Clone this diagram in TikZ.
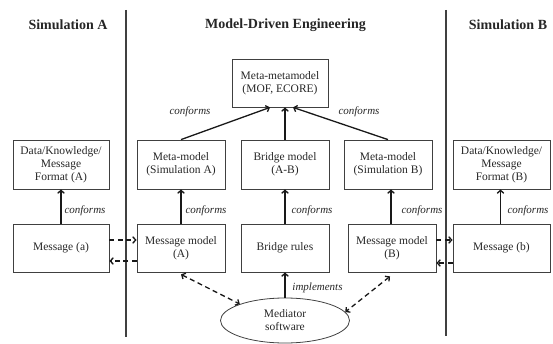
\documentclass[tikz,border=0pt]{standalone}
\usepackage{fontspec}
\setmainfont{Liberation Serif}
\usetikzlibrary{arrows.meta,shapes.geometric}
\begin{document}
\begin{tikzpicture}[x=1pt,y=-1pt,
  box/.style={draw=black!75,line width=0.8pt,inner sep=0pt,align=center,
    font=\fontsize{11.5}{13}\selectfont,text=black!85},
  title/.style={font=\fontsize{14}{16}\selectfont\bfseries,text=black!85},
  lab/.style={font=\fontsize{11}{13}\selectfont\itshape,text=black!85,inner sep=0pt},
  arr/.style={-{Straight Barb[length=3pt,width=6.5pt]},line width=1.3pt,black!90},
  darr/.style={-{Straight Barb[length=3pt,width=6.5pt]},line width=1.3pt,black!90,dash pattern=on 5pt off 3.5pt},
  ddarr/.style={{Straight Barb[length=3pt,width=6.5pt]}-{Straight Barb[length=3pt,width=6.5pt]},line width=1.3pt,black!90,dash pattern=on 5pt off 3.5pt},
  sep/.style={line width=1.3pt,black!75}]
\useasboundingbox (0,0) rectangle (553,344);
% titles
\node[title] (tA) at (68,25) {Simulation A};
\node[title] (tM) at (285.5,25) {Model-Driven Engineering};
\node[title] (tB) at (508,25) {Simulation B};
% separators
\coordinate (s1t) at (126,10); \coordinate (s1b) at (126,337);
\coordinate (s2t) at (446,10); \coordinate (s2b) at (446,336);
\draw[sep] (s1t) -- (s1b);
\draw[sep] (s2t) -- (s2b);
% boxes
\node[box,minimum width=96pt,minimum height=48pt] (mm) at (280,83) {Meta-metamodel\\(MOF, ECORE)};
\node[box,minimum width=88pt,minimum height=49pt] (metaA) at (181,164.5) {Meta-model\\(Simulation A)};
\node[box,minimum width=88pt,minimum height=49pt] (bridge) at (285,164.5) {Bridge model\\(A-B)};
\node[box,minimum width=88pt,minimum height=49pt] (metaB) at (388,164.5) {Meta-model\\(Simulation B)};
\node[box,minimum width=96pt,minimum height=49pt] (dataA) at (61,164.5) {Data/Knowledge/\\Message\\Format (A)};
\node[box,minimum width=97pt,minimum height=49pt] (dataB) at (501.5,164.5) {Data/Knowledge/\\Message\\Format (B)};
\node[box,minimum width=96pt,minimum height=48pt] (msgA) at (61,248) {Message (a)};
\node[box,minimum width=88pt,minimum height=48pt] (mmA) at (181,248) {Message model\\(A)};
\node[box,minimum width=88pt,minimum height=48pt] (rules) at (285,248) {Bridge rules};
\node[box,minimum width=88pt,minimum height=48pt] (mmB) at (392,248) {Message model\\(B)};
\node[box,minimum width=97pt,minimum height=48pt] (msgB) at (501.5,248) {Message (b)};
\node[box,ellipse,minimum width=129pt,minimum height=45pt] (med) at (285,320.5) {Mediator\\software};
% conforms arrows
\draw[arr] (metaA.north) -- ([xshift=-10pt]mm.south);
\draw[arr] (bridge.north) -- (bridge.north |- mm.south);
\draw[arr] (metaB.north) -- ([xshift=13pt]mm.south);
\draw[arr] (msgA.north) -- (dataA.south);
\draw[arr] (mmA.north) -- (mmA.north |- metaA.south);
\draw[arr] (rules.north) -- (bridge.south);
\draw[arr] ([xshift=-1pt]mmB.north) -- ([xshift=-1pt]mmB.north |- metaB.south);
\draw[arr] ([xshift=-1pt]msgB.north) -- ([xshift=-1pt]msgB.north |- dataB.south);
\draw[arr] (med.north) -- (rules.south);
% labels
\node[lab] (l1) at (190,112) {conforms};
\node[lab] (l2) at (359,112) {conforms};
\node[lab] (l3) at (85,211) {conforms};
\node[lab] (l4) at (206,211) {conforms};
\node[lab] (l5) at (312,211) {conforms};
\node[lab] (l6) at (422,211) {conforms};
\node[lab] (l7) at (528,211) {conforms};
\node[lab] (l8) at (317.5,288) {implements};
% dashed message arrows
\draw[darr] ([yshift=8pt]msgA.east) -- ([yshift=8pt]mmA.west);
\draw[darr] ([yshift=-13pt]mmA.west) -- ([yshift=-13pt]msgA.east);
\draw[darr] ([yshift=8pt]mmB.east) -- ([yshift=8pt]msgB.west);
\draw[darr] ([yshift=-15pt]msgB.west) -- ([yshift=-15pt]mmB.east);
\draw[ddarr] ([yshift=-2pt]mmA.south) -- (med.160);
\draw[ddarr] ([xshift=-2pt,yshift=-4pt]mmB.south) -- (med.8);
\end{tikzpicture}
\end{document}
